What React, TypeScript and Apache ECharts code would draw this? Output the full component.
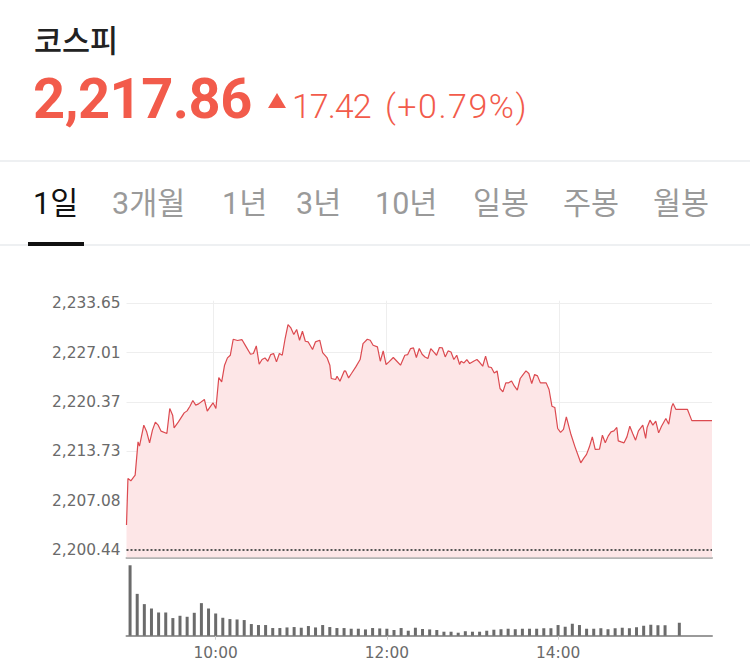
import React, { useEffect, useRef } from "react";
import * as echarts from "echarts";

// ---------- data ----------
const indexName = "코스피";
const lastPrice = "2,217.86";
const changeValue = "17.42";
const changePct = "(+0.79%)";
const tabLabels = ["1일", "3개월", "1년", "3년", "10년", "일봉", "주봉", "월봉"];
const activeTab = 0;

const prevClose = 2200.44;
const priceTicks = [2200.44, 2207.08, 2213.73, 2220.37, 2227.01, 2233.65];
const timeTickMinutes = [60, 180, 300];
const timeTickLabels = ["10:00", "12:00", "14:00"];

// minutes after 09:00
const priceMinutes = [
  0, 1, 3, 6, 8, 9, 12, 14, 16, 18, 20, 22, 24, 28, 30, 32, 33, 36, 40, 42,
  44, 46, 48, 50, 54, 56, 58, 60, 62, 64, 66, 68, 70, 72, 74, 77, 80, 83, 86, 88,
  90, 92, 94, 96, 98, 100, 102, 104, 106, 108, 110, 112, 114, 116, 118, 120, 122, 124, 126, 129,
  131, 134, 136, 139, 141, 142, 145, 146, 148, 151, 152, 154, 156, 159, 162, 164, 167, 169, 171, 174,
  176, 178, 180, 182, 185, 187, 190, 193, 195, 197, 199, 201, 203, 205, 207, 209, 211, 213, 215, 217,
  219, 221, 223, 225, 227, 229, 231, 232, 234, 236, 238, 241, 243, 245, 247, 249, 251, 253, 255, 257,
  259, 261, 263, 265, 267, 269, 271, 273, 275, 277, 279, 281, 283, 285, 287, 289, 291, 293, 295, 297,
  299, 301, 303, 305, 308, 311, 315, 317, 319, 321, 323, 325, 328, 330, 332, 334, 336, 338, 340, 341,
  343, 345, 347, 349, 351, 353, 355, 358, 360, 361, 363, 365, 367, 369, 371, 374, 376, 378, 379, 381,
  389, 392, 406,
];
const priceValues = [
  2203.8, 2210.08, 2209.76, 2210.52, 2215.0, 2214.42, 2217.25, 2216.35, 2214.87, 2216.58,
  2217.65, 2217.25, 2216.44, 2216.13, 2219.49, 2218.59, 2216.88, 2217.69, 2218.9, 2219.17,
  2219.8, 2220.57, 2219.94, 2220.11, 2220.7, 2219.13, 2219.71, 2220.25, 2219.49, 2223.66,
  2223.07, 2225.32, 2226.3, 2226.66, 2228.81, 2228.64, 2228.77, 2227.78, 2226.79, 2226.89,
  2227.91, 2225.45, 2226.08, 2226.3, 2225.85, 2226.75, 2226.89, 2225.76, 2226.89, 2226.66,
  2228.91, 2230.79, 2230.33, 2229.44, 2230.12, 2228.68, 2229.89, 2228.54, 2228.45, 2227.43,
  2228.45, 2228.68, 2227.02, 2226.35, 2225.32, 2223.53, 2223.39, 2223.84, 2223.16, 2224.55,
  2224.51, 2223.61, 2224.2, 2225.09, 2226.08, 2228.23, 2228.81, 2228.68, 2228.0, 2227.78,
  2225.85, 2227.24, 2225.41, 2225.76, 2226.35, 2225.95, 2225.32, 2226.66, 2226.75, 2227.56,
  2227.64, 2226.35, 2227.56, 2226.79, 2226.43, 2226.22, 2227.56, 2227.1, 2226.66, 2227.7,
  2227.64, 2226.43, 2227.24, 2227.1, 2226.08, 2226.66, 2225.41, 2225.85, 2225.62, 2226.08,
  2225.54, 2225.89, 2226.08, 2225.68, 2225.18, 2226.53, 2225.09, 2225.01, 2224.28, 2224.55,
  2222.18, 2221.72, 2222.94, 2222.94, 2223.2, 2222.49, 2221.95, 2223.53, 2224.06, 2224.55,
  2224.2, 2222.85, 2224.06, 2223.88, 2222.94, 2222.94, 2222.94, 2222.05, 2219.8, 2219.63,
  2216.8, 2216.27, 2216.67, 2218.36, 2216.13, 2214.33, 2212.18, 2212.77, 2213.31, 2214.33,
  2215.67, 2213.98, 2214.02, 2215.9, 2214.87, 2215.77, 2216.35, 2216.48, 2216.94, 2215.14,
  2215.0, 2214.87, 2215.67, 2217.11, 2216.13, 2215.23, 2216.48, 2217.25, 2215.46, 2216.94,
  2217.92, 2217.25, 2217.79, 2216.21, 2217.11, 2218.15, 2217.38, 2219.71, 2220.17, 2219.36,
  2219.36, 2217.86, 2217.86,
];

// 5-minute volume bars, start minute after 09:00
const volumeMinutes = [
  0, 5, 10, 15, 20, 25, 30, 35, 40, 45, 50, 55, 60, 65, 70, 75, 80, 85, 90, 95,
  100, 105, 110, 115, 120, 125, 130, 135, 140, 145, 150, 155, 160, 165, 170, 175, 180, 185, 190, 195,
  200, 205, 210, 215, 220, 225, 230, 235, 240, 245, 250, 255, 260, 265, 270, 275, 280, 285, 290, 295,
  300, 305, 310, 315, 320, 325, 330, 335, 340, 345, 350, 355, 360, 365, 370, 375, 380, 385,
];
const volumes = [
  70.7, 42, 31.7, 27.3, 23.3, 23.3, 17.7, 20, 19, 23, 32.7, 27.3, 22.3, 18, 16.7, 16.3, 15.7, 11.7, 10.7, 10.7,
  7.7, 7.7, 8.3, 8.7, 8, 9.7, 8.3, 10.7, 8.7, 7.7, 7.7, 7, 7, 6.3, 7.7, 7.3, 7, 5.7, 7.7, 5,
  8, 6.7, 6.3, 5.7, 4, 4, 3, 4.5, 4, 4, 5, 6, 6.5, 7, 6.5, 7, 7, 7, 7.5, 7.5,
  10.7, 9, 12, 10.7, 7, 7, 7.5, 6.5, 7.5, 8, 7.5, 8.5, 10, 11, 10.5, 10.5, 0, 13,
];

const fmtPrice = (v: number) =>
  v.toLocaleString("en-US", { minimumFractionDigits: 2, maximumFractionDigits: 2 });

const RED = "#f25b4b";

export default function App() {
  const ref = useRef<HTMLDivElement>(null);

  useEffect(() => {
    if (!ref.current) return;
    const chart = echarts.init(ref.current, undefined, { renderer: "svg" });
    const labelFont = { fontFamily: "DejaVu Sans", fontSize: 15.4, color: "#6a6a6a" };
    chart.setOption({
      animation: false,
      grid: [
        { left: 126.5, width: 585.5, top: 300.7, height: 256.6 },
        { left: 126.5, width: 585.5, top: 560, height: 75.7 },
      ],
      xAxis: [
        {
          type: "value",
          gridIndex: 0,
          min: 0,
          max: 406,
          axisLine: { show: true, onZero: false, lineStyle: { color: "#b4b4b4", width: 2 } },
          axisTick: { show: false, customValues: timeTickMinutes },
          axisLabel: { show: false, customValues: timeTickMinutes },
          splitLine: { show: true, lineStyle: { color: "#eeeeee", width: 1 } },
        },
        {
          type: "value",
          gridIndex: 1,
          min: -2.5,
          max: 407.9,
          axisLine: { show: true, onZero: false, lineStyle: { color: "#9a9a9a", width: 2 } },
          axisTick: { show: true, length: 4, customValues: timeTickMinutes, lineStyle: { color: "#cccccc" } },
          axisLabel: {
            show: true,
            customValues: timeTickMinutes,
            margin: 10,
            ...labelFont,
            formatter: (v: number) => timeTickLabels[timeTickMinutes.indexOf(v)] ?? "",
          },
          splitLine: { show: false },
        },
      ],
      yAxis: [
        {
          type: "value",
          gridIndex: 0,
          min: 2199.46,
          max: 2234.0,
          axisLine: { show: false },
          axisTick: { show: false, customValues: priceTicks },
          axisLabel: {
            show: true,
            customValues: priceTicks,
            margin: 6,
            ...labelFont,
            formatter: (v: number) => fmtPrice(v),
          },
          splitLine: { show: true, lineStyle: { color: "#eeeeee", width: 1 } },
        },
        {
          type: "value",
          gridIndex: 1,
          min: 0,
          max: 76,
          show: false,
          splitLine: { show: false },
        },
      ],
      series: [
        {
          type: "line",
          xAxisIndex: 0,
          yAxisIndex: 0,
          data: priceMinutes.map((m, i) => [m, priceValues[i]]),
          showSymbol: false,
          symbol: "none",
          lineStyle: { color: "#dc4a50", width: 1.2 },
          areaStyle: { color: "#fde6e7", origin: "start", opacity: 1 },
          markLine: {
            silent: true,
            symbol: ["none", "none"],
            label: { show: false },
            lineStyle: { color: "#555", type: [2, 2], width: 2 },
            data: [{ yAxis: prevClose }],
          },
          z: 3,
        },
        {
          type: "bar",
          xAxisIndex: 1,
          yAxisIndex: 1,
          barWidth: 3,
          data: volumeMinutes.map((m, i) => [m, volumes[i]]),
          itemStyle: { color: "#6b6b6b" },
        },
      ],
    });
    return () => chart.dispose();
  }, []);

  const tabLeft = [33, 112, 222, 296, 375, 473, 563, 653];

  return (
    <div
      style={{
        position: "absolute",
        left: 0,
        top: 0,
        width: 750,
        height: 670,
        background: "#fff",
        overflow: "hidden",
      }}
    >
      <div ref={ref} style={{ position: "absolute", left: 0, top: 0, width: 750, height: 670 }} />
      <div
        style={{
          position: "absolute",
          left: 34,
          top: 21,
          fontFamily: "'Noto Sans CJK KR'",
          fontWeight: 500,
          fontSize: 30.5,
          lineHeight: "36px",
          color: "#222",
        }}
      >
        {indexName}
      </div>
      <div
        style={{
          position: "absolute",
          left: 33,
          top: 71,
          fontFamily: "Roboto",
          fontWeight: 700,
          fontSize: 56,
          lineHeight: "56px",
          color: RED,
          letterSpacing: -0.5,
        }}
      >
        {lastPrice}
      </div>
      <div
        style={{
          position: "absolute",
          left: 268,
          top: 93,
          width: 0,
          height: 0,
          borderLeft: "9.5px solid transparent",
          borderRight: "9.5px solid transparent",
          borderBottom: `15px solid ${RED}`,
        }}
      />
      <div
        style={{
          position: "absolute",
          left: 292,
          top: 89,
          fontFamily: "Roboto",
          fontWeight: 300,
          fontSize: 34,
          lineHeight: "34px",
          color: RED,
          whiteSpace: "nowrap",
          letterSpacing: -1,
        }}
      >
        {changeValue}
      </div>
      <div
        style={{
          position: "absolute",
          left: 385,
          top: 89,
          fontFamily: "Roboto",
          fontWeight: 300,
          fontSize: 34,
          lineHeight: "34px",
          color: RED,
          whiteSpace: "nowrap",
          letterSpacing: 1.5,
        }}
      >
        {changePct}
      </div>
      <div style={{ position: "absolute", left: 0, top: 160, width: 750, height: 2, background: "#eef0f2" }} />
      {tabLabels.map((t, i) => (
        <div
          key={t}
          style={{
            position: "absolute",
            left: tabLeft[i],
            top: 186,
            fontFamily: "Roboto, 'Noto Sans CJK KR'",
            fontSize: 30.5,
            lineHeight: "36px",
            color: i === activeTab ? "#111" : "#9a9a9a",
            whiteSpace: "nowrap",
          }}
        >
          {t}
        </div>
      ))}
      <div style={{ position: "absolute", left: 0, top: 244, width: 750, height: 2, background: "#eef0f2" }} />
      <div style={{ position: "absolute", left: 28, top: 242, width: 56, height: 4, background: "#111" }} />
    </div>
  );
}
